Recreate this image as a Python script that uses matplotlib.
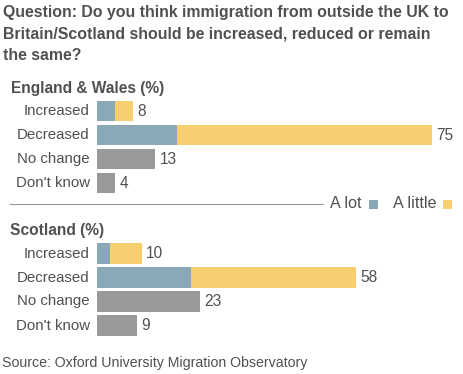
import matplotlib
matplotlib.use("Agg")
import matplotlib.pyplot as plt
from matplotlib.patches import Rectangle
from matplotlib.lines import Line2D

plt.rcParams['font.family'] = ['Liberation Sans', 'DejaVu Sans']

# data
categories = ["Increased", "Decreased", "No change", "Don't know"]
ew_lot = [4, 18, 13, 4]
ew_little = [4, 57, 0, 0]
ew_totals = [8, 75, 13, 4]
sc_lot = [3, 21, 23, 9]
sc_little = [7, 37, 0, 0]
sc_totals = [10, 58, 23, 9]

BLUE = "#8ba8b7"
YELLOW = "#f7cf70"
GREY = "#999999"
TEXT = "#505050"

W, H = 464, 374
fig = plt.figure(figsize=(W / 100, H / 100), dpi=100)


def fx(px):
    return px / W


def fy(py):
    return 1 - py / H


def panel(top, lot, little, totals):
    left = 97
    ax = fig.add_axes([fx(left), fy(top + 96), fx(W - left), 96 / H])
    ax.set_xlim(0, (W - left) / 4.47)
    ax.set_ylim(3.5, -0.5)
    ax.axis("off")
    for i, cat in enumerate(categories):
        col = GREY if little[i] == 0 and i >= 2 else BLUE
        ax.barh(i, lot[i], height=0.85, color=col, linewidth=0)
        if little[i]:
            ax.barh(i, little[i], left=lot[i], height=0.85, color=YELLOW, linewidth=0)
        ax.text(totals[i] + 1.0, i, str(totals[i]), va="center", ha="left",
                fontsize=11.2, color=TEXT)
        ax.text(-1.6, i, cat, va="center", ha="right", fontsize=10.8, color=TEXT)
    return ax


title = ("Question: Do you think immigration from outside the UK to\n"
         "Britain/Scotland should be increased, reduced or remain\n"
         "the same?")
fig.text(fx(3), fy(5), title, ha="left", va="top", fontsize=11.4,
         fontweight="bold", color=TEXT, linespacing=1.56)

fig.text(fx(11), fy(88), "England & Wales (%)", ha="left", va="center",
         fontsize=11.2, fontweight="bold", color=TEXT)
panel(99, ew_lot, ew_little, ew_totals)

# separator and legend
fig.add_artist(Line2D([fx(10), fx(323)], [fy(204), fy(204)], color=GREY, lw=0.8))
fig.text(fx(362), fy(204), "A lot", ha="right", va="center", fontsize=11.6, color=TEXT)
fig.add_artist(Rectangle((fx(369), fy(209)), fx(9), 9 / H, color=BLUE, lw=0))
fig.text(fx(437), fy(204), "A little", ha="right", va="center", fontsize=11.6, color=TEXT)
fig.add_artist(Rectangle((fx(443), fy(209)), fx(9), 9 / H, color=YELLOW, lw=0))

fig.text(fx(10), fy(230), "Scotland (%)", ha="left", va="center",
         fontsize=11.2, fontweight="bold", color=TEXT)
panel(241.5, sc_lot, sc_little, sc_totals)

fig.text(fx(2), fy(363), "Source: Oxford University Migration Observatory",
         ha="left", va="center", fontsize=10.2, color=TEXT)

fig.savefig("out.png", dpi=100)
